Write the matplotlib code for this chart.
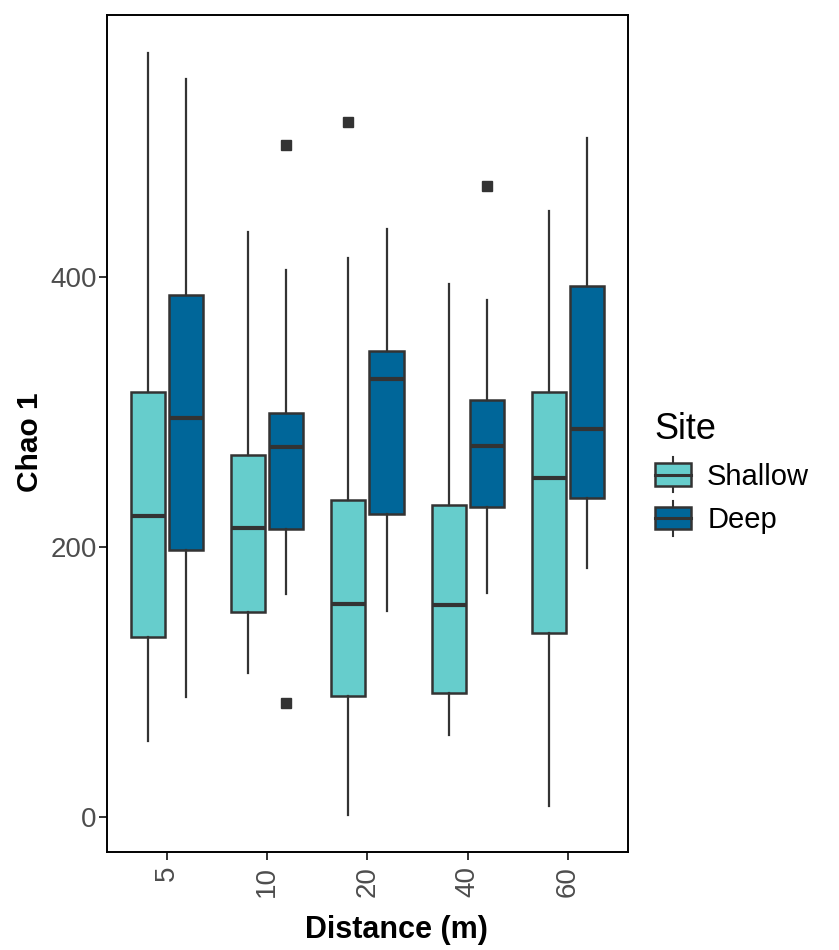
import matplotlib
matplotlib.use("Agg")
import matplotlib.pyplot as plt
from matplotlib.legend_handler import HandlerBase
from matplotlib.patches import Rectangle
from matplotlib.lines import Line2D

plt.rcParams["font.family"] = ["Liberation Sans", "DejaVu Sans"]

# Data (Chao 1 richness by distance and site)
distances = ["5", "10", "20", "40", "60"]
sites = ["Shallow", "Deep"]
site_colors = {"Shallow": "#66CDCC", "Deep": "#006699"}

# (whislo, q1, med, q3, whishi)
shallow_stats = [
    (56.5, 133.6, 223.0, 314.8, 565.7),
    (106.4, 151.6, 213.8, 268.1, 433.1),
    (1.5, 89.6, 157.5, 234.6, 414.3),
    (60.7, 91.6, 157.3, 230.9, 395.1),
    (8.4, 136.0, 251.1, 314.8, 449.1),
]
deep_stats = [
    (88.7, 197.5, 295.6, 386.4, 546.4),
    (165.2, 213.6, 274.1, 299.3, 405.2),
    (152.8, 224.4, 324.7, 344.9, 435.3),
    (165.9, 229.4, 274.6, 308.6, 383.2),
    (184.2, 236.3, 287.6, 393.1, 503.2),
]
shallow_fliers = [[], [], [514.8], [], []]
deep_fliers = [[], [497.8, 84.2], [], [467.6], []]

edge = "#333333"


def make_stats(stats, fliers):
    out = []
    for (lo, q1, med, q3, hi), fl in zip(stats, fliers):
        out.append(dict(whislo=lo, q1=q1, med=med, q3=q3, whishi=hi, fliers=fl))
    return out


class BoxHandler(HandlerBase):
    # draws a small boxplot glyph as legend key
    def create_artists(self, legend, orig_handle, xdescent, ydescent,
                       width, height, fontsize, trans):
        fc = orig_handle.get_facecolor()
        x0 = xdescent
        bw = width
        cx = x0 + bw / 2
        bh = height * 0.85
        y0 = -ydescent + (height - bh) / 2
        rect = Rectangle((x0, y0), bw, bh, facecolor=fc, edgecolor=edge,
                         linewidth=1.8, transform=trans)
        med = Line2D([x0, x0 + bw], [y0 + bh / 2] * 2, color=edge, lw=2.2,
                     transform=trans)
        w1 = Line2D([cx, cx], [y0 + bh, y0 + bh + height * 0.25], color=edge,
                    lw=1.5, transform=trans)
        w2 = Line2D([cx, cx], [y0, y0 - height * 0.25], color=edge, lw=1.5,
                    transform=trans)
        return [w1, w2, rect, med]


fig = plt.figure(figsize=(8.39, 9.5), dpi=100)
ax = fig.add_axes([0.1275, 0.1032, 0.621, 0.881])

pos = list(range(len(distances)))
offset = 0.19
width = 0.34
for site, stats, fliers, sign in [("Shallow", shallow_stats, shallow_fliers, -1),
                                  ("Deep", deep_stats, deep_fliers, 1)]:
    ax.bxp(make_stats(stats, fliers),
           positions=[p + sign * offset for p in pos],
           widths=width, patch_artist=True, showcaps=False,
           boxprops=dict(facecolor=site_colors[site], edgecolor=edge, linewidth=1.8),
           medianprops=dict(color=edge, linewidth=3.0),
           whiskerprops=dict(color=edge, linewidth=1.6),
           flierprops=dict(marker="s", markersize=6.5, markerfacecolor=edge,
                           markeredgecolor=edge))

ax.set_xlim(-0.6, len(distances) - 0.4)
ax.set_ylim(-26, 594)
ax.set_xticks(pos)
ax.set_xticklabels(distances, rotation=90, fontsize=20, color="#4D4D4D")
ax.set_yticks([0, 200, 400])
ax.set_yticklabels(["0", "200", "400"], fontsize=20, color="#4D4D4D")
ax.tick_params(axis="both", length=6, width=1.4, color=edge)
ax.tick_params(axis="y", pad=1.5)
ax.tick_params(axis="x", pad=4)
for s in ax.spines.values():
    s.set_linewidth(1.4)
    s.set_color("black")

ax.set_xlabel("Distance (m)", fontsize=22, fontweight="bold")
ax.xaxis.set_label_coords(0.555, -0.075)
ax.set_ylabel("Chao 1", fontsize=21.5, fontweight="bold")
ax.yaxis.set_label_coords(-0.12, 0.49)

handles = [Rectangle((0, 0), 1, 1, facecolor=site_colors[s]) for s in sites]
fig.legend(handles, sites, title="Site", loc="upper left",
           bbox_to_anchor=(0.749, 0.594), frameon=False, fontsize=21,
           title_fontsize=26, handler_map={Rectangle: BoxHandler()},
           handlelength=1.25, handleheight=1.0, labelspacing=0.5,
           handletextpad=0.55, alignment="left")

fig.savefig("out.png", dpi=100)
